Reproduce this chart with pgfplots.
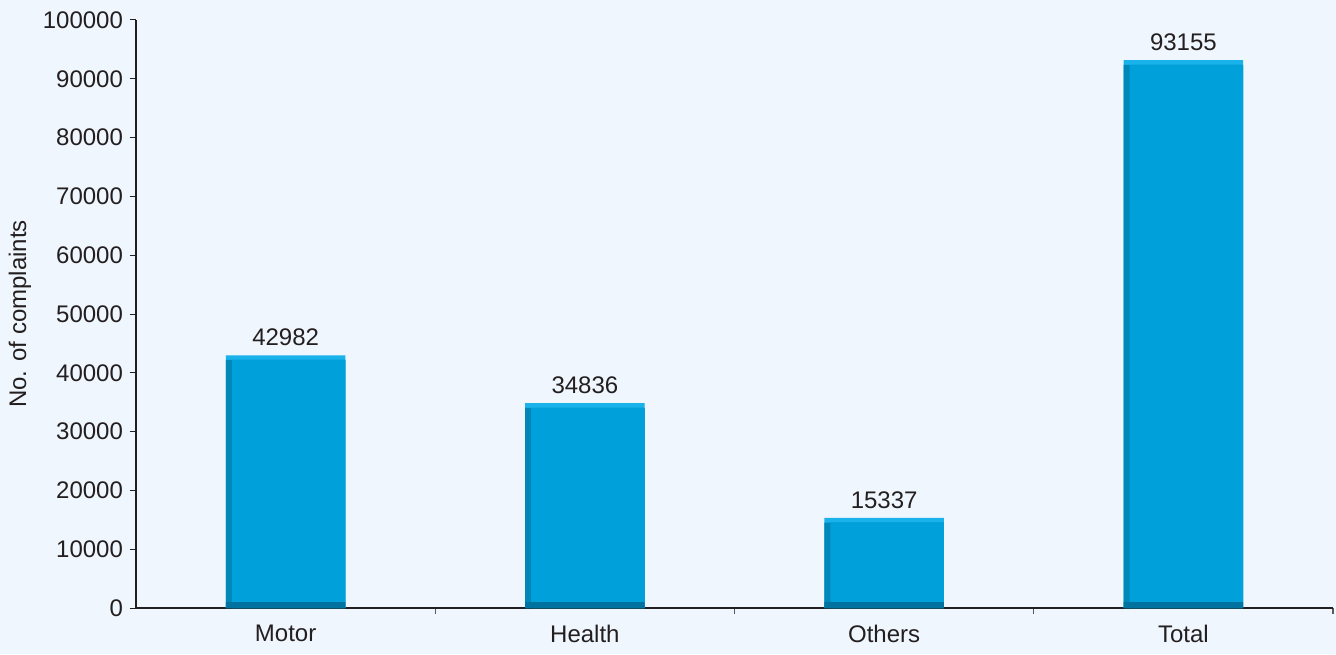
\documentclass[border=0pt]{standalone}
\usepackage{pgfplots}
\pgfplotsset{compat=1.18}
\usepackage{fontspec}
\setmainfont{Liberation Sans}
\definecolor{bg}{HTML}{F0F6FD}
\definecolor{barlight}{HTML}{19B2EA}
\definecolor{barleft}{HTML}{0087BA}
\definecolor{barmain}{HTML}{00A0DA}
\definecolor{barbottom}{HTML}{00729F}
\definecolor{axiscol}{HTML}{231F20}
\begin{document}
\begin{tikzpicture}
\fill[bg] (0,0) rectangle (668pt,327pt);
\path[use as bounding box] (0,0) rectangle (668pt,327pt);
\begin{axis}[
  at={(68pt,23pt)}, anchor=south west,
  scale only axis, width=598.5pt, height=294pt,
  xmin=-0.5, xmax=3.5, ymin=0, ymax=100000,
  axis x line=bottom, axis y line=left,
  axis line style={axiscol, line width=1pt, -},
  xtick={0.5,1.5,2.5,3.5}, xticklabels={,,,},
  x tick style={draw=gray!70!black, line width=0.6pt},
  extra x ticks={0,1,2,3}, extra x tick labels={Motor,Health,Others,Total},
  extra x tick style={major tick length=0pt, tick style={draw=none}},
  ytick={0,10000,...,100000},
  scaled y ticks=false,
  tick align=outside,
  major tick length=3pt,
  y tick style={axiscol, line width=0.5pt},
  every tick label/.append style={font=\fontsize{12}{14}\selectfont, text=axiscol},
  /pgf/number format/fixed,
  /pgf/number format/precision=0,
  /pgf/number format/1000 sep={},
  /pgf/number format/assume math mode=true,
  ylabel={No. of complaints},
  every axis y label/.style={at={(axis description cs:-0.0969,0.5)}, rotate=90, anchor=center, font=\fontsize{12}{14}\selectfont, text=axiscol},
  yticklabel style={xshift=0pt, /pgf/number format/fixed, /pgf/number format/1000 sep={}},
  xticklabel style={yshift=-5pt},
  ybar, bar width=0.4, bar shift=0pt,
  clip=false,
]
\addplot[fill=barlight, draw=none,
  nodes near coords, nodes near coords style={font=\fontsize{12}{14}\selectfont, text=axiscol, yshift=1pt},
  /pgf/number format/1000 sep={}]
  coordinates {(0,42982) (1,34836) (2,15337) (3,93155)};
\addplot[fill=barleft, draw=none] coordinates {(0,42182) (1,34036) (2,14537) (3,92355)};
\addplot[fill=barmain, draw=none, bar width=0.38, bar shift=0.01] coordinates {(0,42182) (1,34036) (2,14537) (3,92355)};
\addplot[fill=barbottom, draw=none] coordinates {(0,1000) (1,1000) (2,1000) (3,1000)};
\end{axis}
\end{tikzpicture}
\end{document}
